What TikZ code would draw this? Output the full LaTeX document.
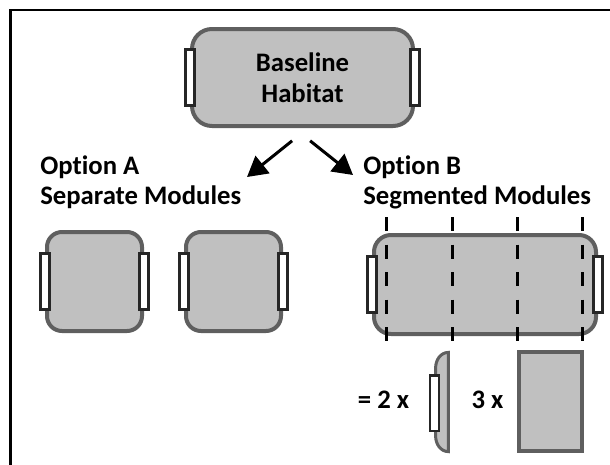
\documentclass[tikz,border=0pt]{standalone}
\usepackage{fontspec}
\setmainfont{Carlito}[Ligatures=NoCommon]
\usepackage{tikz}
\usetikzlibrary{arrows.meta}
\definecolor{modulefill}{RGB}{192,192,192}
\definecolor{moduleline}{RGB}{95,95,95}
\definecolor{portline}{RGB}{38,38,38}

\begin{document}
\begin{tikzpicture}[
    font=\bfseries\fontsize{19pt}{22pt}\selectfont,
    module/.style={draw=moduleline, fill=modulefill, line width=0.1cm, rounded corners=0.375cm,
      align=center, inner sep=0pt, minimum width=2.375cm, minimum height=2.475cm},
    port/.style={draw=portline, fill=white, line width=0.065cm, inner sep=0pt,
      minimum width=0.22cm, minimum height=1.39cm},
    optlabel/.style={align=left, inner sep=0pt, anchor=north west},
    arrow/.style={-{Triangle[length=0.5cm, width=0.55cm]}, line width=0.075cm},
    cut/.style={line width=0.075cm, dash pattern=on 0.35cm off 0.3375cm}
  ]
    \useasboundingbox (0,0) rectangle (15.25,-11.6);
    \draw[line width=0.06cm] (0.26,-0.25) rectangle (16,-12);

    \node[module, minimum width=5.525cm, minimum height=2.425cm, rounded corners=0.5cm] (base) at (7.5625,-1.9375) {Baseline\\Habitat};
    \node[port] (baseL) at (base.west) {};
    \node[port] (baseR) at (base.east) {};

    \coordinate (tipA) at (6.175,-4.425);
    \coordinate (tipB) at (8.825,-4.375);
    \draw[arrow] ([xshift=-0.26cm, yshift=-0.32cm]base.south) -- (tipA);
    \draw[arrow] ([xshift=0.19cm, yshift=-0.32cm]base.south) -- (tipB);

    \node[optlabel] (optA) at (1.0,-3.875) {Option A\\Separate Modules};
    \node[optlabel] (optB) at (9.075,-3.875) {Option B\\Segmented Modules};

    \node[module] (sepA) at (2.3625,-7.0375) {};
    \node[port] (sepAL) at (sepA.west) {};
    \node[port] (sepAR) at (sepA.east) {};
    \node[module] (sepB) at (5.8375,-7.0375) {};
    \node[port] (sepBL) at (sepB.west) {};
    \node[port] (sepBR) at (sepB.east) {};

    \node[module, minimum width=5.55cm, rounded corners=0.425cm] (segd) at (12.125,-7.1125) {};
    \node[port] (segdL) at (segd.west) {};
    \node[port] (segdR) at (segd.east) {};
    \foreach \x in {9.65,11.3,12.925,14.55}
      \draw[cut] (\x,-5.425) -- (\x,-8.525);

    \node (twoX) at (9.5875,-10.0) {= 2 x};
    \draw[draw=moduleline, fill=modulefill, line width=0.075cm]
      (11.21,-8.81) to[out=180, in=90] (10.89,-9.2) -- (10.89,-10.9)
      to[out=-90, in=180] (11.21,-11.29) -- cycle;
    \node[port] (endcap) at (10.8625,-10.075) {};

    \node (threeX) at (12.1875,-10.0) {3 x};
    \node[module, sharp corners, minimum width=1.575cm] (segment) at (13.7625,-10.0375) {};
  \end{tikzpicture}
\end{document}
